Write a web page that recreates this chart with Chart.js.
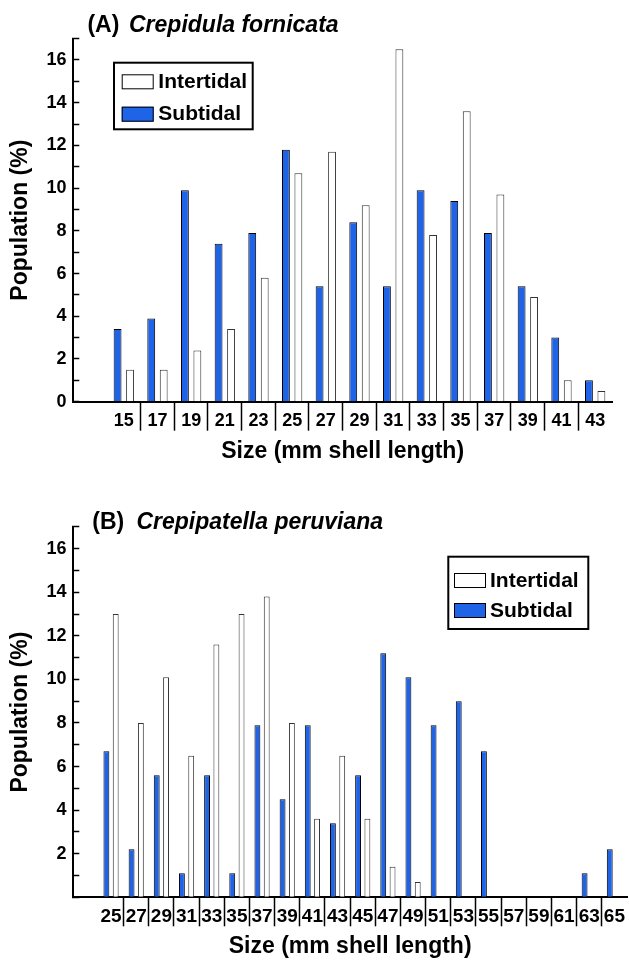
<!DOCTYPE html>
<html>
<head>
<meta charset="utf-8">
<script src="https://cdn.jsdelivr.net/npm/chart.js@4.4.1/dist/chart.umd.min.js"></script>
<style>
  html, body { margin: 0; padding: 0; background: #fff; }
  .panel { position: absolute; left: 0; width: 629px; }
  #panelA { top: 0; height: 470px; }
  #panelB { top: 470px; height: 490px; }
</style>
</head>
<body>
<div class="panel" id="panelA"><canvas id="chartA"></canvas></div>
<div class="panel" id="panelB"><canvas id="chartB"></canvas></div>
<script>
// (A) Crepidula fornicata
const sizesA = [15, 17, 19, 21, 23, 25, 27, 29, 31, 33, 35, 37, 39, 41, 43];
const subtidalA = [3.4, 3.9, 9.9, 7.4, 7.9, 11.8, 5.4, 8.4, 5.4, 9.9, 9.4, 7.9, 5.4, 3.0, 1.0];
const intertidalA = [1.5, 1.5, 2.4, 3.4, 5.8, 10.7, 11.7, 9.2, 16.5, 7.8, 13.6, 9.7, 4.9, 1.0, 0.5];
const yLabelsA = [0, 2, 4, 6, 8, 10, 12, 14, 16];

// (B) Crepipatella peruviana
const sizesB = [25, 27, 29, 31, 33, 35, 37, 39, 41, 43, 45, 47, 49, 51, 53, 55, 57, 59, 61, 63, 65];
const subtidalB = [6.7, 2.2, 5.6, 1.1, 5.6, 1.1, 7.9, 4.5, 7.9, 3.4, 5.6, 11.2, 10.1, 7.9, 9.0, 6.7, 0, 0, 0, 1.1, 2.2];
const intertidalB = [13.0, 8.0, 10.1, 6.5, 11.6, 13.0, 13.8, 8.0, 3.6, 6.5, 3.6, 1.4, 0.7, 0, 0, 0, 0, 0, 0, 0, 0];
const yLabelsB = [2, 4, 6, 8, 10, 12, 14, 16];

const FONT = "'Liberation Sans', Arial, Helvetica, sans-serif";
const BLUE = '#1f63e6';

// title and boxed legend drawn inside the plot
const panelDecor = {
    id: 'panelDecor',
    afterDraw(chart, args, opts) {
        const ctx = chart.ctx;
        ctx.save();
        ctx.fillStyle = '#000';
        ctx.textBaseline = 'alphabetic';
        ctx.textAlign = 'left';
        ctx.font = `bold 23px ${FONT}`;
        ctx.fillText(opts.tag, opts.tagX, opts.titleY);
        ctx.font = `italic bold 23px ${FONT}`;
        ctx.fillText(opts.species, opts.speciesX, opts.titleY);

        const b = opts.legend;
        ctx.lineWidth = 2;
        ctx.strokeStyle = '#000';
        ctx.strokeRect(b.x, b.y, b.w, b.h);
        const items = [chart.data.datasets[1], chart.data.datasets[0]];
        items.forEach((ds, i) => {
            const y = b.y + b.rowTop + i * b.rowGap;
            ctx.fillStyle = ds.backgroundColor;
            ctx.fillRect(b.x + b.swX, y, 32, 15);
            ctx.lineWidth = 1;
            ctx.strokeStyle = '#000';
            ctx.strokeRect(b.x + b.swX + 0.5, y + 0.5, 31, 14);
            ctx.fillStyle = '#000';
            ctx.font = `bold 21px ${FONT}`;
            ctx.textBaseline = 'middle';
            ctx.fillText(ds.label, b.x + b.textX, y + 8);
        });
        ctx.restore();
    }
};

function makeChart(id, sizes, subtidal, intertidal, yLabels, cfg) {
    const labels = [''].concat(sizes.map(String));
    return new Chart(document.getElementById(id), {
        type: 'bar',
        data: {
            labels: labels,
            datasets: [{
                label: 'Subtidal',
                data: [null].concat(subtidal),
                backgroundColor: BLUE,
                borderColor: '#000',
                borderWidth: 1,
                categoryPercentage: 0.74,
                barPercentage: 0.63
            }, {
                label: 'Intertidal',
                data: [null].concat(intertidal),
                backgroundColor: '#ffffff',
                borderColor: '#333',
                borderWidth: 1,
                categoryPercentage: 0.74,
                barPercentage: 0.63
            }]
        },
        options: {
            responsive: true,
            maintainAspectRatio: false,
            animation: false,
            layout: { padding: { left: 0, right: cfg.padRight, top: cfg.padTop, bottom: 0 } },
            plugins: {
                legend: { display: false },
                tooltip: { enabled: false },
                panelDecor: cfg.decor
            },
            scales: {
                x: {
                    type: 'category',
                    offset: true,
                    afterFit: scale => { scale.height = cfg.xHeight; },
                    border: { display: true, color: '#000', width: 2 },
                    grid: {
                        offset: true,
                        drawOnChartArea: false,
                        tickLength: 29,
                        tickWidth: 1.5,
                        tickColor: c => (c.index >= 2 ? '#000' : 'rgba(0,0,0,0)')
                    },
                    ticks: {
                        autoSkip: false,
                        maxRotation: 0,
                        padding: -20.8,
                        color: '#000',
                        font: { family: FONT, size: cfg.xFont, weight: 'bold' }
                    },
                    title: {
                        display: true,
                        text: 'Size (mm shell length)',
                        color: '#000',
                        padding: { top: 0, bottom: cfg.xTitlePad },
                        font: { family: FONT, size: 23, weight: 'bold' }
                    }
                },
                y: {
                    min: 0,
                    max: 17,
                    afterFit: scale => { scale.width = 73.3; },
                    border: { display: true, color: '#000', width: 2 },
                    grid: {
                        drawOnChartArea: false,
                        tickLength: -6,
                        tickWidth: 1.5,
                        tickColor: '#000'
                    },
                    ticks: {
                        stepSize: 1,
                        autoSkip: false,
                        padding: 12.8,
                        color: '#000',
                        font: { family: FONT, size: 18, weight: 'bold' },
                        callback: v => (yLabels.includes(v) ? String(v) : '')
                    },
                    title: {
                        display: true,
                        text: 'Population (%)',
                        color: '#000',
                        padding: { top: 7, bottom: 0 },
                        font: { family: FONT, size: 23, weight: 'bold' }
                    }
                }
            }
        },
        plugins: [panelDecor]
    });
}

makeChart('chartA', sizesA, subtidalA, intertidalA, yLabelsA, {
    padTop: 38.6, padRight: 17, xHeight: 68.3, xFont: 18, xTitlePad: 5,
    decor: {
        tag: '(A)', tagX: 87.4, species: 'Crepidula fornicata', speciesX: 129, titleY: 32,
        legend: { x: 114, y: 62.7, w: 138.7, h: 66.6, rowTop: 11.6, rowGap: 32.4, swX: 7.7, textX: 44.3 }
    }
});

makeChart('chartB', sizesB, subtidalB, intertidalB, yLabelsB, {
    padTop: 56.9, padRight: 2, xHeight: 62.7, xFont: 19, xTitlePad: 0,
    decor: {
        tag: '(B)', tagX: 92.3, species: 'Crepipatella peruviana', speciesX: 136.4, titleY: 59,
        legend: { x: 448.3, y: 86.7, w: 140, h: 72.3, rowTop: 16.3, rowGap: 30, swX: 5.7, textX: 41.7 }
    }
});
</script>
</body>
</html>
